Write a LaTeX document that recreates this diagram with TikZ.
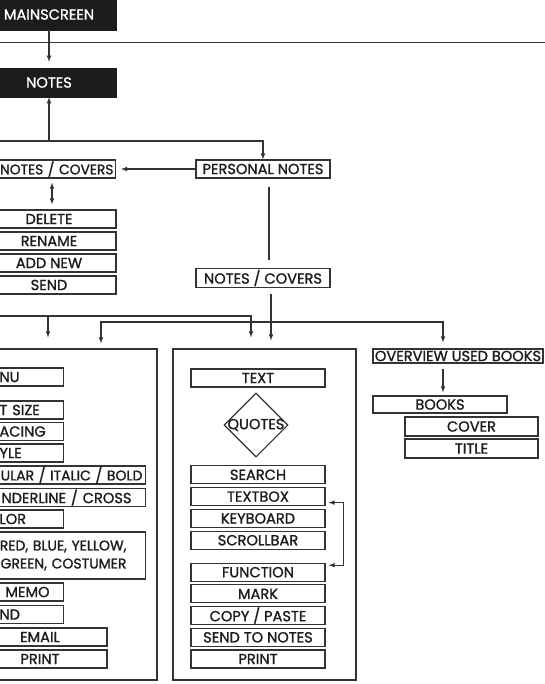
\documentclass[tikz,border=0pt]{standalone}
\usepackage{fontspec}
\setmainfont{Poppins}[FakeBold=1.3]
\usetikzlibrary{arrows, shapes.geometric}
\definecolor{dunkel}{HTML}{1C1C1C}
\definecolor{strich}{HTML}{333333}

\begin{document}
\begin{tikzpicture}[x=1pt, y=-1pt,
		>=latex,   % Pfeilspitzen
		font=\fontsize{14.6}{18}\selectfont, text=dunkel,
		item/.style={draw=strich, line width=1.1pt, minimum width=134pt, minimum height=18pt, inner sep=1pt},
		dark/.style={fill=dunkel, draw=dunkel, text=white, minimum width=134pt, inner sep=1pt},
		panel/.style={draw=strich, line width=1.1pt, minimum height=331pt},
		lst/.style={item, minimum width=0pt, anchor=east, text width=#1, align=left, inner xsep=4pt},
		conn/.style={draw=strich, line width=1.1pt}]
		% Bildbereich
		\useasboundingbox (0,0) rectangle (545,684);
		\clip (0,0) rectangle (545,684);
		% Kopf
		\node[dark, minimum height=31pt] (main) at (49,14.5) {MAINSCREEN};
		\coordinate (sepl) at (0,43.5);
		\coordinate (sepr) at (545,43.5);
		\draw[strich, double=white, double distance=0.6pt, line width=0.7pt] (sepl) -- (sepr);
		\node[dark, minimum height=29pt] (notes) at (49,82.5) {NOTES};
		% Notizen
		\node[item] (pn) at (263,169) {PERSONAL NOTES};
		\node[lst=114pt, align=right, inner xsep=2pt, font=\fontsize{13.8}{16}\selectfont] (ncl) at (116,169) {NOTES / COVERS};
		\node[item] (ncm) at (263,278) {NOTES / COVERS};
		\foreach \nm/\txt [count=\i] in {del/DELETE, ren/RENAME, add/ADD NEW, snd/SEND}
			\node[item] (\nm) at (49,197+22*\i) {\txt};
		% Verbindungen oben
		\coordinate (r0) at (0,141);
		\draw[conn, ->, shorten >=6pt] (main) -- (notes);
		\draw[conn, ->] (r0) -| (pn.north);
		\draw[conn, ->] (notes.south |- r0) -- (notes.south);
		\draw[conn, ->, shorten >=5pt] (pn) -- (ncl);
		\draw[conn, <->, shorten <=4pt, shorten >=5pt] ([xshift=3pt]notes.south |- ncl.south) -- ([xshift=3pt]del.north);
		\draw[conn, shorten <=8pt, shorten >=8pt] ([xshift=6pt]pn.south) -- ([xshift=6pt]ncm.north);
		% Kaesten
		\node[panel, minimum width=162pt] (menubox) at (76,514.5) {};
		\node[panel, minimum width=183pt] (mid) at (264.5,514.5) {};
		% linker Kasten
		\node[lst=60pt] (menu) at (64,377) {NU};
		\node[lst=60pt] (fsize) at (64,410) {T SIZE};
		\node[lst=60pt] (spac) at (64,431.5) {ACING};
		\node[lst=60pt] (styl) at (64,453) {YLE};
		\node[lst=150pt, align=right, inner xsep=3pt, font=\fontsize{14}{18}\selectfont] (regu) at (146,475) {ULAR / ITALIC / BOLD};
		\node[lst=140pt] (unde) at (146,497.5) {NDERLINE / CROSS};
		\node[lst=60pt] (colr) at (64,519) {LOR};
		\node[lst=140pt, align=right, inner xsep=19pt, minimum height=47pt, font=\fontsize{14}{18}\selectfont] (cols) at (146,555.5) {RED, BLUE, YELLOW,\\GREEN, COSTUMER};
		\node[lst=48pt, inner xsep=10pt] (memo) at (64,592) {MEMO};
		\node[lst=60pt] (send) at (64,614.5) {ND};
		\node[item] (mail) at (40,637) {EMAIL};
		\node[item] (prnl) at (40,659) {PRINT};
		% mittlerer Kasten
		\node[item] (tx) at (258,378) {TEXT};
		\node[draw=strich, line width=1.1pt, diamond, minimum width=64pt, minimum height=64pt, inner sep=0pt] (quot) at (256,425) {\makebox[0pt]{QUOTES}};
		\foreach \nm/\txt [count=\i] in {srch/SEARCH, tbox/TEXTBOX, keyb/KEYBOARD, scrl/SCROLLBAR}
			\node[item] (\nm) at (258,453+21.8*\i) {\txt};
		\foreach \nm/\txt [count=\i] in {func/FUNCTION, mark/MARK, copy/{COPY / PASTE}, stn/SEND TO NOTES, prnm/PRINT}
			\node[item] (\nm) at (258,550.5+21.7*\i) {\txt};
		\draw[conn, <->] ([xshift=3pt,yshift=-6pt]tbox.east) -- ++(15,0) |- ([xshift=3pt,yshift=7pt]func.east);
		% rechte Spalte
		\node[item, minimum width=170pt, minimum height=14pt, inner sep=0pt] (ovr) at (458,356) {OVERVIEW USED BOOKS};
		\node[item, minimum height=17pt] (books) at (440,404.5) {BOOKS};
		\node[item, minimum width=133pt, minimum height=19pt] (cover) at (471.5,426.5) {COVER};
		\node[item, minimum width=133pt, minimum height=19pt] (title) at (471.5,448.5) {TITLE};
		\coordinate (ob) at ([xshift=-15pt]ovr.south);
		\coordinate (ot) at ([xshift=-15pt]ovr.north);
		\draw[conn, ->, shorten <=5pt, shorten >=3pt] (ob) -- (ob |- books.north);
		% Verbindungen unten
		\coordinate (nk) at ([xshift=8pt]ncm.south);
		\draw[conn, ->, shorten <=6pt, shorten >=8pt] (nk) -- (nk |- mid.north);
		\coordinate (r1) at (0,316);
		\coordinate (r2) at (nk |- 0,322);
		\coordinate (ml) at ([xshift=-28pt]menubox.north);
		\draw[conn, ->, shorten >=11pt] (r1) -| ([xshift=-13.5pt]mid.north);
		\draw[conn, ->, shorten >=11pt] (ml |- r1) -- (ml);
		\draw[conn, ->, shorten >=5pt] (r2) -| ([xshift=25pt]menubox.north);
		\draw[conn, ->, shorten >=6pt] (r2) -| (ot);
\end{tikzpicture}
\end{document}
